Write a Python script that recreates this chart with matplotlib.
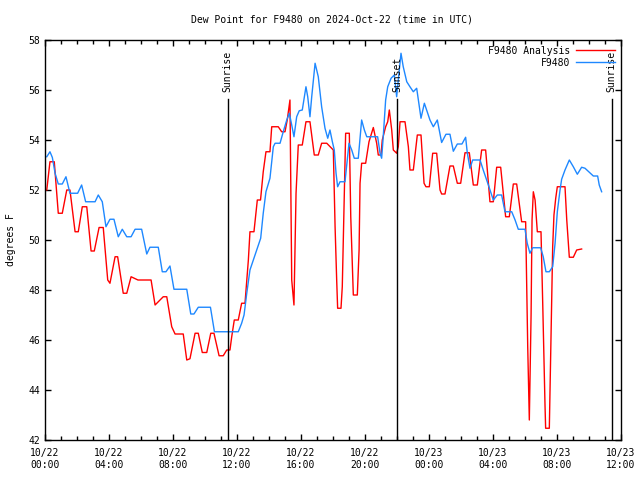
import matplotlib
matplotlib.use("Agg")
import matplotlib.pyplot as plt

# hours since 2024-10-22 00:00 UTC
red_t = [0.11, 0.31, 0.58, 0.83, 1.08, 1.36, 1.56, 1.88, 2.08, 2.33, 2.61, 2.88, 3.08, 3.38, 3.64,
         3.92, 4.06, 4.38, 4.54, 4.89, 5.11, 5.38, 5.81, 6.63, 6.88, 7.39, 7.61, 7.92, 8.13, 8.64,
         8.86, 9.06, 9.38, 9.58, 9.83, 10.11, 10.36, 10.56, 10.88, 11.14, 11.36, 11.56, 11.67, 11.83,
         12.08, 12.29, 12.5, 12.71, 12.81, 13.06, 13.27, 13.47, 13.64, 13.81, 14.06, 14.17, 14.58,
         14.79, 15.0, 15.14, 15.31, 15.42, 15.56, 15.69, 15.83, 16.08, 16.31, 16.56, 16.83, 17.08,
         17.29, 17.61, 18.02, 18.13, 18.23, 18.29, 18.5, 18.58, 18.79, 19.02, 19.11, 19.27, 19.52,
         19.63, 19.69, 19.79, 20.04, 20.25, 20.52, 20.73, 20.83, 21.0, 21.08, 21.29, 21.42, 21.52,
         21.67, 21.77, 21.98, 22.08, 22.19, 22.5, 22.71, 22.81, 23.02, 23.27, 23.5, 23.69, 23.81,
         24.02, 24.23, 24.48, 24.69, 24.79, 25.0, 25.31, 25.52, 25.77, 25.98, 26.25, 26.52, 26.77,
         27.02, 27.29, 27.54, 27.81, 28.02, 28.23, 28.48, 28.79, 29.02, 29.27, 29.48, 29.79, 30.04,
         30.17, 30.27, 30.38, 30.44, 30.52, 30.63, 30.77, 31.0, 31.11, 31.25, 31.29, 31.52, 31.67,
         31.73, 31.81, 31.92, 32.02, 32.5, 32.61, 32.77, 33.02, 33.23, 33.54]
red_v = [52.0, 53.13, 53.13, 51.07, 51.07, 52.0, 52.0, 50.33, 50.33, 51.33, 51.33, 49.56, 49.56, 50.5, 50.5,
         48.4, 48.27, 49.33, 49.33, 47.87, 47.87, 48.53, 48.4, 48.4, 47.4, 47.73, 47.73, 46.53, 46.24, 46.24,
         45.2, 45.25, 46.27, 46.27, 45.5, 45.5, 46.27, 46.27, 45.37, 45.37, 45.6, 45.6, 46.13, 46.8,
         46.8, 47.47, 47.47, 49.2, 50.33, 50.33, 51.6, 51.6, 52.73, 53.53, 53.53, 54.53, 54.53,
         54.33, 54.33, 54.8, 55.6, 48.4, 47.4, 51.87, 53.8, 53.8, 54.73, 54.73, 53.4, 53.4,
         53.87, 53.87, 53.6, 50.53, 48.4, 47.27, 47.27, 48.13, 54.27, 54.27, 50.93, 47.8, 47.8,
         49.6, 52.27, 53.07, 53.07, 53.93, 54.5, 53.87, 53.4, 53.4, 54.0, 54.53, 54.73, 55.2,
         54.4, 53.6, 53.47, 53.73, 54.73, 54.73, 53.73, 52.8, 52.8, 54.2, 54.2, 52.27, 52.13,
         52.13, 53.47, 53.47, 52.0, 51.84, 51.84, 52.96, 52.96, 52.27, 52.27, 53.49, 53.49, 52.2,
         52.2, 53.6, 53.6, 51.53, 51.53, 52.91, 52.91, 50.93, 50.93, 52.24, 52.24, 50.73, 50.73,
         45.73, 42.8, 47.0, 50.8, 51.93, 51.6, 50.33, 50.33, 47.4, 43.4, 42.47, 42.47, 47.67,
         49.73, 51.0, 51.67, 52.13, 52.13, 50.8, 49.31, 49.31, 49.6, 49.64]

blue_t = [0.11, 0.31, 0.46, 0.63, 0.83, 1.08, 1.31, 1.56, 2.04, 2.29, 2.54, 3.13, 3.33, 3.58, 3.81,
          4.06, 4.31, 4.58, 4.83, 5.11, 5.38, 5.63, 6.04, 6.36, 6.56, 7.08, 7.33, 7.56, 7.81, 8.06,
          8.86, 9.11, 9.31, 9.58, 10.34, 10.59, 12.08, 12.29, 12.44, 12.61, 12.81, 13.02, 13.27,
          13.48, 13.64, 13.81, 14.06, 14.27, 14.38, 14.69, 14.89, 15.11, 15.27, 15.42, 15.56, 15.73,
          15.89, 16.08, 16.31, 16.42, 16.56, 16.67, 16.88, 17.08, 17.29, 17.5, 17.67, 17.81, 17.96,
          18.08, 18.19, 18.29, 18.44, 18.75, 18.89, 19.0, 19.17, 19.33, 19.58, 19.79, 19.96, 20.11,
          20.79, 20.94, 21.04, 21.14, 21.29, 21.42, 21.63, 21.83, 21.98, 22.08, 22.25, 22.39, 22.61,
          22.81, 23.02, 23.23, 23.5, 23.71, 23.96, 24.06, 24.27, 24.52, 24.79, 25.06, 25.31, 25.52,
          25.77, 26.06, 26.29, 26.39, 26.56, 26.73, 27.19, 27.39, 27.71, 28.02, 28.27, 28.54, 28.75,
          29.17, 29.38, 29.58, 30.0, 30.14, 30.31, 30.48, 30.98, 31.14, 31.31, 31.52, 31.73, 31.88,
          32.02, 32.19, 32.29, 32.5, 32.77, 33.02, 33.27, 33.54, 33.75, 34.27, 34.54, 34.64, 34.79]
blue_v = [53.33, 53.53, 53.3, 52.67, 52.24, 52.24, 52.53, 51.87, 51.87, 52.2, 51.53, 51.53, 51.8, 51.53, 50.53,
          50.83, 50.83, 50.13, 50.43, 50.13, 50.13, 50.43, 50.43, 49.44, 49.71, 49.71, 48.73, 48.73, 48.96, 48.03,
          48.03, 47.04, 47.04, 47.31, 47.31, 46.33, 46.33, 46.67, 47.0, 47.87, 48.8, 49.2, 49.67,
          50.07, 51.07, 51.93, 52.47, 53.73, 53.87, 53.87, 54.33, 54.8, 55.07, 54.6, 54.13, 54.93,
          55.17, 55.2, 56.13, 55.73, 54.93, 55.73, 57.07, 56.53, 55.33, 54.47, 54.07, 54.4, 53.93,
          53.6, 52.67, 52.13, 52.33, 52.33, 53.2, 53.87, 53.6, 53.27, 53.27, 54.8, 54.4, 54.13,
          54.13, 53.47, 53.27, 54.13, 55.6, 56.13, 56.47, 56.6, 55.73, 56.4, 57.47, 56.93, 56.33,
          56.13, 55.93, 56.07, 54.87, 55.47, 55.0, 54.8, 54.53, 54.8, 53.9, 54.23, 54.23, 53.55,
          53.84, 53.84, 54.11, 53.5, 52.87, 53.2, 53.2, 52.8, 52.2, 51.6, 51.8, 51.8, 51.13,
          51.13, 50.8, 50.43, 50.43, 49.87, 49.47, 49.69, 49.69, 49.33, 48.73, 48.73, 48.93, 49.87,
          51.13, 52.0, 52.43, 52.8, 53.2, 52.93, 52.63, 52.91, 52.87, 52.56, 52.56, 52.2, 51.93]

tick_hours = [0, 4, 8, 12, 16, 20, 24, 28, 32, 36]
tick_labels = ["10/22\n00:00", "10/22\n04:00", "10/22\n08:00", "10/22\n12:00", "10/22\n16:00",
               "10/22\n20:00", "10/23\n00:00", "10/23\n04:00", "10/23\n08:00", "10/23\n12:00"]
sun_events = [("Sunrise", 11.42), ("Sunset", 22.02), ("Sunrise", 35.42)]

plt.rcParams['font.family'] = ['DejaVu Sans Mono']
fs = 7

fig = plt.figure(figsize=(6.4, 4.8), dpi=100)
ax = fig.add_axes([45/640, 40/480, 576/640, 400/480])

ax.plot(red_t, red_v, color='#ff0000', lw=1.0, label='F9480 Analysis')
ax.plot(blue_t, blue_v, color='#1e88ff', lw=1.0, label='F9480')

for name, h in sun_events:
    ax.plot([h, h], [42, 55.65], color='black', lw=1.0)
    ax.text(h, 55.92, name, rotation=90, ha='center', va='bottom', fontsize=fs)

ax.set_xlim(0, 36)
ax.set_ylim(42, 58)
ax.set_xticks(tick_hours)
ax.set_xticklabels(tick_labels, fontsize=fs)
ax.set_xticks(list(range(0, 37)), minor=True)
ax.set_yticks(list(range(42, 59, 2)))
ax.tick_params(axis='y', labelsize=fs)
ax.tick_params(which='both', direction='in', top=True, right=True, length=4, width=1)
ax.tick_params(which='minor', length=3)
ax.tick_params(axis='x', pad=6)
for s in ax.spines.values():
    s.set_linewidth(1.0)

fig.text(11/640, 1 - 240/480, 'degrees F', rotation=90, ha='center', va='center', fontsize=fs)
fig.text(332/640, 1 - 20/480, 'Dew Point for F9480 on 2024-Oct-22 (time in UTC)',
         ha='center', va='center', fontsize=fs)

leg = ax.legend(loc='upper right', frameon=False, fontsize=fs, handlelength=4,
                markerfirst=False, borderaxespad=0.2, handletextpad=0.6, labelspacing=0.2)

fig.savefig('out.png', dpi=100)
